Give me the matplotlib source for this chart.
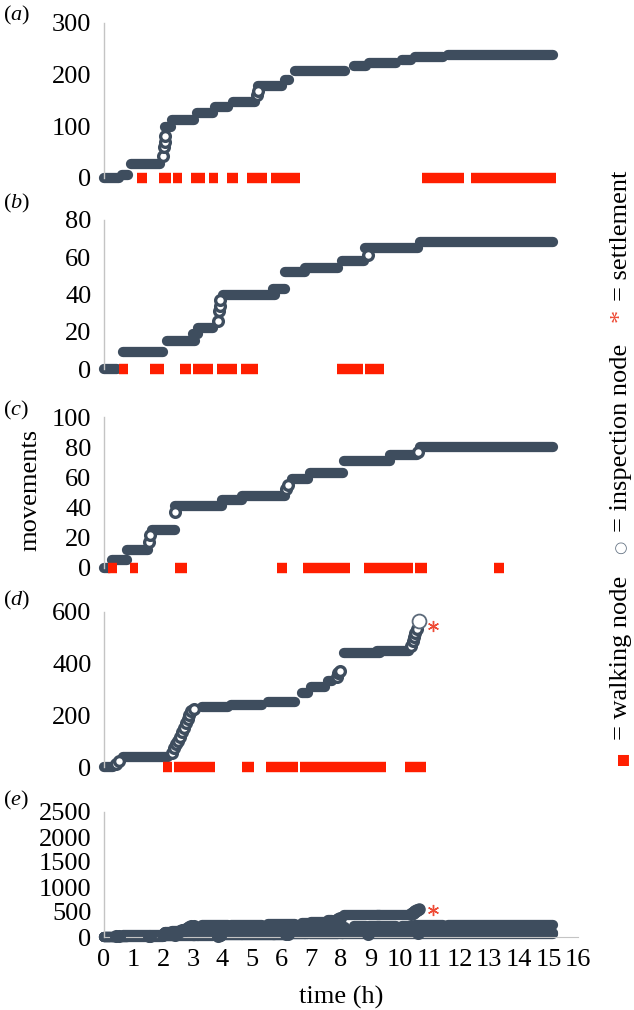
import matplotlib
matplotlib.use("Agg")
import matplotlib.pyplot as plt

plt.rcParams['font.family'] = ['Liberation Serif', 'DejaVu Sans']
plt.rcParams['mathtext.fontset'] = 'custom'
plt.rcParams['mathtext.rm'] = 'Liberation Serif'
plt.rcParams['mathtext.it'] = 'Liberation Serif:italic'

# ---------------- data ----------------
# Panel (a): inspection-node plateaus (level, start time, end time)
a_level = [0, 6, 28, 98, 112, 126, 137, 147, 178, 190, 208, 217, 222, 228, 235, 238]
a_start = [0.0, 0.6, 0.9, 2.05, 2.3, 3.15, 3.75, 4.36, 5.2, 6.1, 6.45, 8.45, 8.95, 10.05, 10.5, 11.6]
a_end = [0.5, 0.8, 1.9, 2.25, 3.05, 3.68, 4.2, 5.1, 6.0, 6.25, 8.15, 8.85, 9.85, 10.35, 11.45, 15.15]
a_jump_t = [2.0, 2.03, 2.05, 2.07, 5.15, 5.2]
a_jump_v = [42, 60, 70, 82, 160, 168]
a_walk_start = [1.13, 1.87, 2.32, 2.93, 3.56, 4.15, 4.82, 5.63, 10.73, 12.39]
a_walk_end = [1.44, 2.26, 2.62, 3.40, 3.86, 4.53, 5.50, 6.62, 12.14, 15.27]

# Panel (b)
b_level = [0, 9, 15, 19, 22, 40, 43, 52, 54, 58, 65, 68]
b_start = [0.0, 0.65, 2.12, 3.0, 3.17, 4.03, 5.72, 6.12, 6.79, 8.03, 8.82, 10.67]
b_end = [0.45, 2.0, 3.07, 3.18, 3.69, 5.78, 6.11, 6.79, 7.9, 8.76, 10.61, 15.15]
b_jump_t = [3.85, 3.88, 3.9, 3.92, 8.9]
b_jump_v = [26, 31, 34, 37, 61]
b_walk_start = [0.49, 1.55, 2.58, 2.99, 3.81, 4.61, 7.86, 8.82]
b_walk_end = [0.80, 2.03, 2.92, 3.68, 4.50, 5.19, 8.75, 9.44]

# Panel (c)
c_level = [0, 5, 12, 25, 41, 45, 48, 59, 63, 71, 75, 80]
c_start = [0.0, 0.26, 0.77, 1.61, 2.4, 3.97, 4.65, 6.34, 6.96, 8.09, 9.66, 10.65]
c_end = [0.2, 0.77, 1.5, 2.4, 3.97, 4.65, 6.11, 6.9, 8.08, 9.66, 10.56, 15.15]
c_jump_t = [1.53, 1.56, 2.4, 6.15, 6.2, 10.6]
c_jump_v = [17, 22, 37, 52, 55, 77]
c_walk_start = [0.15, 0.88, 2.40, 5.85, 6.71, 8.76, 10.50, 13.15]
c_walk_end = [0.43, 1.16, 2.81, 6.19, 8.29, 10.43, 10.90, 13.50]

# Panel (d)
d_level = [0, 40, 233, 239, 253, 288, 308, 334, 442, 450]
d_start = [0.0, 0.65, 3.3, 4.3, 5.55, 6.7, 7.0, 7.55, 8.1, 9.2]
d_end = [0.3, 2.17, 4.2, 5.33, 6.45, 6.9, 7.45, 7.7, 9.3, 10.3]
d_jump_t = [0.4, 0.5, 2.3, 2.37, 2.43, 2.5, 2.58, 2.63, 2.7, 2.76, 2.82, 2.88, 2.95, 3.05,
            7.85, 7.9, 7.95, 10.35, 10.42, 10.47, 10.5, 10.55]
d_jump_v = [12, 25, 55, 75, 90, 100, 115, 135, 150, 170, 185, 200, 215, 225,
            350, 362, 372, 468, 488, 505, 520, 535]
d_settle_t = [10.62]
d_settle_v = [565]
d_star_t = [11.1]
d_star_v = [545]
d_walk_start = [1.98, 2.36, 4.65, 5.46, 6.60, 10.17]
d_walk_end = [2.29, 3.73, 5.05, 6.55, 9.53, 10.88]

# Panel (e): all colonies together
e_star_t = [11.1]
e_star_v = [550]

panel_labels = ['a', 'b', 'c', 'd', 'e']
y_ticks = [[0, 100, 200, 300], [0, 20, 40, 60, 80], [0, 20, 40, 60, 80, 100],
           [0, 200, 400, 600], [0, 500, 1000, 1500, 2000, 2500]]
x_ticks = list(range(0, 17))

# ---------------- styling ----------------
W, H = 634, 1010
DARK = '#3E4D5E'
RED = '#FF1E00'
STAR = '#EE4B36'
SPINE = '#C4C4C4'
FS = 19

fig = plt.figure(figsize=(W / 100, H / 100), dpi=100)

# axes pixel geometry: (y of zero, y of top)
geo = [(178, 23), (369, 220), (568, 417), (767, 612), (937, 812)]
x0, x1 = 104, 578


def make_ax(zero_px, top_px):
    ax = fig.add_axes([x0 / W, 1 - zero_px / H, (x1 - x0) / W, (zero_px - top_px) / H])
    ax.set_xlim(0, 16)
    for s in ['top', 'right', 'bottom']:
        ax.spines[s].set_visible(False)
    ax.spines['left'].set_color(SPINE)
    ax.spines['left'].set_linewidth(1.0)
    ax.tick_params(axis='both', length=0, labelsize=FS, pad=9)
    ax.patch.set_alpha(0)
    return ax


def draw_series(ax, level, start, end, jt, jv, face='white'):
    ax.hlines(level, start, end, colors=DARK, linewidth=7.4, capstyle='round',
              clip_on=False, zorder=2)
    ax.plot(jt, jv, linestyle='none', marker='o', markersize=7, markerfacecolor=face,
            markeredgecolor=DARK, markeredgewidth=2.4, clip_on=False, zorder=3)


def draw_walk(ax, ws, we):
    ax.hlines([0] * len(ws), ws, we, colors=RED, linewidth=7.5, capstyle='butt',
              clip_on=False, zorder=4)


series = [
    (a_level, a_start, a_end, a_jump_t, a_jump_v, a_walk_start, a_walk_end),
    (b_level, b_start, b_end, b_jump_t, b_jump_v, b_walk_start, b_walk_end),
    (c_level, c_start, c_end, c_jump_t, c_jump_v, c_walk_start, c_walk_end),
    (d_level, d_start, d_end, d_jump_t, d_jump_v, d_walk_start, d_walk_end),
]

axes = []
for i in range(5):
    ax = make_ax(*geo[i])
    ax.set_ylim(y_ticks[i][0], y_ticks[i][-1])
    ax.set_yticks(y_ticks[i])
    axes.append(ax)

for i, (lv, st, en, jt, jv, ws, we) in enumerate(series):
    ax = axes[i]
    draw_series(ax, lv, st, en, jt, jv)
    draw_walk(ax, ws, we)
    ax.set_xticks([])

# settlement in (d)
ax = axes[3]
ax.plot(d_settle_t, d_settle_v, linestyle='none', marker='o', markersize=10,
        markerfacecolor='white', markeredgecolor='#5C6A7A', markeredgewidth=1.3,
        clip_on=False, zorder=5)
ax.plot(d_star_t, d_star_v, linestyle='none', marker=(6, 2, 0), markersize=8,
        color=STAR, markeredgewidth=1.0, clip_on=False, zorder=5)

# (e): everything together
ax = axes[4]
for (lv, st, en, jt, jv, ws, we) in series:
    draw_series(ax, lv, st, en, jt, jv, face=DARK)
ax.plot(d_settle_t, d_settle_v, linestyle='none', marker='o', markersize=8,
        markerfacecolor=DARK, markeredgecolor=DARK, clip_on=False, zorder=5)
ax.plot(e_star_t, e_star_v, linestyle='none', marker=(6, 2, 0), markersize=8,
        color=STAR, markeredgewidth=1.0, clip_on=False, zorder=5)
ax.spines['bottom'].set_visible(True)
ax.spines['bottom'].set_color(SPINE)
ax.set_xticks(x_ticks)
ax.set_xticklabels([str(t) for t in x_ticks])

# panel letters
letter_y = [15, 203, 410, 600, 800]
for lab, yy in zip(panel_labels, letter_y):
    fig.text(3 / W, 1 - yy / H, '($\\mathit{%s}$)' % lab, fontsize=16,
             ha='left', va='center')

fig.text(30 / W, 1 - 490 / H, 'movements', rotation=90, fontsize=FS,
         ha='center', va='center')
fig.text((x0 + x1) / 2 / W, 1 - 997 / H, 'time (h)', fontsize=FS,
         ha='center', va='center')

# rotated legend on the right, built from the bottom upwards
fig.canvas.draw()
r = fig.canvas.get_renderer()
legend_pieces = [
    ('\u25aa', RED, ['DejaVu Sans'], 16, 10),
    ('= walking node', 'black', ['Liberation Serif'], FS, 22),
    ('\u25cb', '#6A7888', ['DejaVu Sans'], 11, 8),
    ('= inspection node', 'black', ['Liberation Serif'], FS, 22),
    ('*', STAR, ['Liberation Serif'], FS, 8),
    ('= settlement', 'black', ['Liberation Serif'], FS, 0),
]
lx = 621
ly = H - 765  # pixels from bottom
for txt, col, fam, fs, gap in legend_pieces:
    t = fig.text(lx / W, ly / H, txt, rotation=90, rotation_mode='anchor',
                 ha='left', va='center', color=col, family=fam, fontsize=fs)
    bb = t.get_window_extent(r)
    ly += bb.height + gap

fig.savefig('out.png', dpi=100)
